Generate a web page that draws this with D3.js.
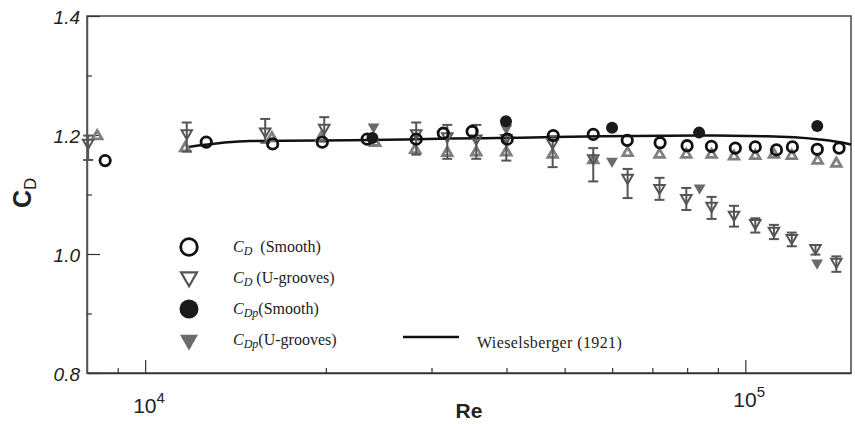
<!DOCTYPE html>
<html>
<head>
<meta charset="utf-8">
<script src="https://cdn.jsdelivr.net/npm/d3@7/dist/d3.min.js"></script>
<style>
  body { margin: 0; background: #fff; }
</style>
</head>
<body>
<div id="chart"></div>
<script>
const width = 855, height = 424
const margin = { top: 16, right: 4, bottom: 51, left: 87 }

// [Re, C]  C_D smooth cylinder (open circles)
const cdSmooth = [[8577, 1.157], [12640, 1.188], [16310, 1.185], [19730, 1.188], [23440, 1.193],
  [28290, 1.193], [31390, 1.203], [35060, 1.206], [40110, 1.193], [47860, 1.199], [55800, 1.201],
  [63570, 1.191], [72110, 1.187], [79990, 1.182], [87800, 1.181], [96240, 1.178], [103900, 1.180],
  [112700, 1.175], [119800, 1.180], [131800, 1.176], [143300, 1.178]]

// [Re, C, low, high]  C_D U-grooves (open down triangles + error bars)
const cdGroove = [[8035, 1.187, 1.158, 1.199], [11730, 1.203, 1.172, 1.221], [15850, 1.206, 1.187, 1.227],
  [19880, 1.212, 1.189, 1.230], [28290, 1.203, 1.167, 1.221], [31870, 1.198, 1.160, 1.217],
  [35620, 1.194, 1.160, 1.217], [39970, 1.195, 1.157, 1.217], [47750, 1.187, 1.146, 1.198],
  [55800, 1.161, 1.122, 1.178], [63660, 1.128, 1.094, 1.143], [71950, 1.111, 1.091, 1.128],
  [79740, 1.094, 1.074, 1.111], [87860, 1.081, 1.059, 1.096], [95760, 1.066, 1.046, 1.081],
  [103900, 1.052, 1.036, 1.060], [111600, 1.039, 1.025, 1.049], [119500, 1.027, 1.013, 1.036],
  [130900, 1.010, 0.999, 1.015], [141800, 0.987, 0.970, 0.996]]

// [Re, C]  C_Dp smooth (filled circles)
const cdpSmooth = [[23910, 1.195], [39920, 1.223], [59970, 1.212], [83750, 1.204], [131800, 1.215]]

// [Re, C]  C_Dp U-grooves (filled down triangles)
const cdpGroove = [[24020, 1.2135], [39970, 1.211], [59960, 1.156], [83910, 1.111], [131700, 0.985]]

// [Re, C]  gray up triangles
const upTri = [[8320, 1.198], [11660, 1.178], [16260, 1.195], [19630, 1.195], [24170, 1.187],
  [28180, 1.175], [31870, 1.170], [35620, 1.171], [39970, 1.171], [47750, 1.167], [55800, 1.158],
  [63660, 1.170], [71950, 1.167], [79740, 1.167], [87860, 1.167], [95760, 1.164], [103900, 1.165],
  [111600, 1.167], [119500, 1.165], [132000, 1.157], [141800, 1.152]]

// [Re, C]  Wieselsberger (1921)
const wiesel = [[11800, 1.180], [14960, 1.190], [21960, 1.191], [32220, 1.194], [42170, 1.1955],
  [57360, 1.198], [84140, 1.199], [108600, 1.198], [131800, 1.193], [148600, 1.185], [150000, 1.184]]

const xTicks = [9000, 10000, 20000, 30000, 40000, 50000, 60000, 70000, 80000, 90000, 100000]
const xMajor = [10000, 100000]
const yTicks = [0.8, 0.9, 1.0, 1.1, 1.2, 1.3, 1.4]
const yLabels = ["0.8", "1.0", "1.2", "1.4"]

const svg = d3.select("#chart")
    .append("svg")
    .attr("width", width)
    .attr("height", height)

const x = d3.scaleLog()
    .domain([8000, 150000])
    .range([margin.left, width - margin.right])

const y = d3.scaleLinear()
    .domain([0.8, 1.4])
    .range([height - margin.bottom, margin.top])

const dark = "#555", light = "#7f7f7f", mid = "#6b6b6b"

// frame
svg.append("rect")
    .attr("x", margin.left)
    .attr("y", margin.top)
    .attr("width", width - margin.left - margin.right)
    .attr("height", height - margin.top - margin.bottom)
    .attr("fill", "none")
    .attr("stroke", "#444")
    .attr("stroke-width", 1.5)

// x axis, ticks pointing in
const gx = svg.append("g")
    .attr("transform", "translate(0," + (height - margin.bottom) + ")")
    .call(d3.axisBottom(x).tickValues(xTicks).tickSizeInner(-5).tickSizeOuter(0).tickFormat(""))
gx.select(".domain").attr("stroke", "#333").attr("stroke-width", 1.5)
gx.selectAll(".tick line")
    .attr("stroke", "#333")
    .attr("stroke-width", 1.2)
    .attr("y2", d => xMajor.includes(d) ? -13 : -5)

// y axis
const gy = svg.append("g")
    .attr("transform", "translate(" + margin.left + ",0)")
    .call(d3.axisLeft(y).tickValues(yTicks).tickSizeInner(-5).tickSizeOuter(0).tickFormat(""))
gy.select(".domain").attr("stroke", "#555").attr("stroke-width", 1.5)
gy.selectAll(".tick line")
    .attr("stroke", "#333")
    .attr("stroke-width", 1.2)
    .attr("x2", d => Math.round(d * 10) % 2 === 0 ? 13 : 5)

// y tick labels (italic)
svg.selectAll(".ylab")
    .data(yLabels)
    .join("text")
    .attr("x", margin.left - 7)
    .attr("y", d => y(+d) + 8)
    .attr("text-anchor", "end")
    .style("font-family", "Arial, 'Liberation Sans', sans-serif")
    .style("font-style", "italic")
    .style("font-size", "19px")
    .attr("fill", "#222")
    .text(d => d)

// x tick labels 10^n
const xLab = svg.selectAll(".xlab")
    .data(xMajor)
    .join("text")
    .attr("x", d => x(d) - 12)
    .attr("y", (d, i) => i === 0 ? 413 : 407)
    .style("font-family", "'Liberation Sans', Arial, sans-serif")
    .style("font-size", "21px")
    .attr("fill", "#222")
xLab.append("tspan").text("10")
xLab.append("tspan")
    .attr("dy", -10)
    .style("font-size", "15px")
    .text(d => Math.round(Math.log10(d)))

// axis titles
svg.append("text")
    .attr("x", 469)
    .attr("y", 418)
    .attr("text-anchor", "middle")
    .style("font-family", "'Liberation Sans', Arial, sans-serif")
    .style("font-weight", "bold")
    .style("font-size", "21px")
    .attr("fill", "#222")
    .text("Re")

const yt = svg.append("text")
    .attr("transform", "translate(31,208) rotate(-90)")
    .style("font-family", "'Liberation Sans', Arial, sans-serif")
    .attr("fill", "#222")
yt.append("tspan").style("font-weight", "bold").style("font-size", "25px").text("C")
yt.append("tspan").attr("dy", 5).style("font-size", "17px").text("D")

// Wieselsberger curve
const line = d3.line()
    .x(d => x(d[0]))
    .y(d => y(d[1]))
    .curve(d3.curveMonotoneX)

svg.append("path")
    .datum(wiesel)
    .attr("d", line)
    .attr("fill", "none")
    .attr("stroke", "#111")
    .attr("stroke-width", 2.5)

const plot = svg.append("g")

// up triangles
plot.selectAll(".up")
    .data(upTri)
    .join("path")
    .attr("transform", d => "translate(" + x(d[0]) + "," + y(d[1]) + ")")
    .attr("d", d3.symbol(d3.symbolTriangle, 40))
    .attr("fill", "none")
    .attr("stroke", light)
    .attr("stroke-width", 2.8)

// error bars
const eb = plot.selectAll(".eb")
    .data(cdGroove)
    .join("g")
    .attr("transform", d => "translate(" + x(d[0]) + ",0)")
    .attr("stroke", dark)
    .attr("stroke-width", 2)
eb.append("line")
    .attr("y1", d => y(d[2])).attr("y2", d => y(d[3]))
eb.append("line")
    .attr("x1", -5).attr("x2", 5)
    .attr("y1", d => y(d[2])).attr("y2", d => y(d[2]))
eb.append("line")
    .attr("x1", -5).attr("x2", 5)
    .attr("y1", d => y(d[3])).attr("y2", d => y(d[3]))

// open down triangles
plot.selectAll(".dn")
    .data(cdGroove)
    .join("path")
    .attr("transform", d => "translate(" + x(d[0]) + "," + y(d[1]) + ") rotate(180)")
    .attr("d", d3.symbol(d3.symbolTriangle, 48))
    .attr("fill", "none")
    .attr("stroke", dark)
    .attr("stroke-width", 2)

// filled down triangles
plot.selectAll(".dnf")
    .data(cdpGroove)
    .join("path")
    .attr("transform", d => "translate(" + x(d[0]) + "," + y(d[1]) + ") rotate(180)")
    .attr("d", d3.symbol(d3.symbolTriangle, 60))
    .attr("fill", mid)

// open circles
plot.selectAll(".oc")
    .data(cdSmooth)
    .join("circle")
    .attr("cx", d => x(d[0]))
    .attr("cy", d => y(d[1]))
    .attr("r", 5.2)
    .attr("fill", "none")
    .attr("stroke", "#111")
    .attr("stroke-width", 2.8)

// filled circles
plot.selectAll(".fc")
    .data(cdpSmooth)
    .join("circle")
    .attr("cx", d => x(d[0]))
    .attr("cy", d => y(d[1]))
    .attr("r", 6)
    .attr("fill", "#1a1a1a")

// LEGEND
const legendItems = [
    { sub: "D", rest: "  (Smooth)" },
    { sub: "D", rest: " (U-grooves)" },
    { sub: "Dp", rest: "(Smooth)" },
    { sub: "Dp", rest: "(U-grooves)" }
]
const lg = svg.append("g").attr("transform", "translate(189,247)")
lg.append("circle").attr("cx", 0).attr("cy", 0).attr("r", 8.3)
    .attr("fill", "none").attr("stroke", "#111").attr("stroke-width", 2.8)
lg.append("path").attr("transform", "translate(0,30) rotate(180)")
    .attr("d", d3.symbol(d3.symbolTriangle, 110))
    .attr("fill", "none").attr("stroke", dark).attr("stroke-width", 2.2)
lg.append("circle").attr("cx", 0).attr("cy", 62).attr("r", 9.5).attr("fill", "#1a1a1a")
lg.append("path").attr("transform", "translate(0,93) rotate(180)")
    .attr("d", d3.symbol(d3.symbolTriangle, 140))
    .attr("fill", mid)

legendItems.forEach((d, i) => {
    const t = lg.append("text")
        .attr("x", 44)
        .attr("y", 5 + 31 * i)
        .attr("xml:space", "preserve")
        .style("font-family", "'Liberation Serif', 'Times New Roman', serif")
        .style("font-size", "16px")
        .style("white-space", "pre")
        .attr("fill", "#222")
    t.append("tspan").style("font-style", "italic").text("C")
    t.append("tspan").attr("dy", 3).style("font-style", "italic").style("font-size", "12px").text(d.sub)
    t.append("tspan").attr("dy", -3).text(d.rest)
})

svg.append("line")
    .attr("x1", 403).attr("x2", 459)
    .attr("y1", 337).attr("y2", 337)
    .attr("stroke", "#111").attr("stroke-width", 2.5)
svg.append("text")
    .attr("x", 477)
    .attr("y", 348)
    .style("font-family", "'Liberation Serif', 'Times New Roman', serif")
    .style("font-size", "16px")
    .style("letter-spacing", "0.4px")
    .attr("fill", "#222")
    .text("Wieselsberger (1921)")
</script>
</body>
</html>
